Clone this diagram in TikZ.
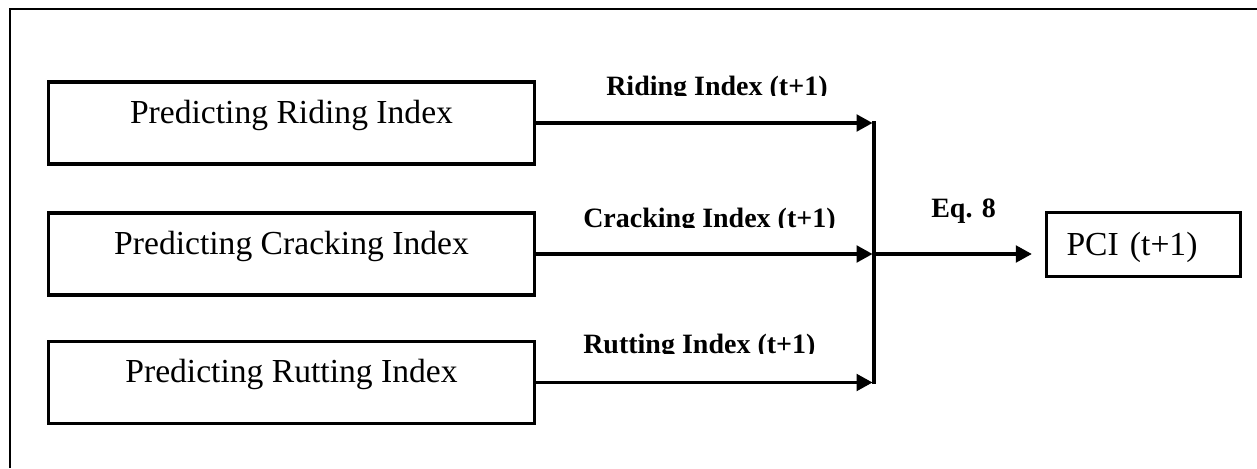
\documentclass[tikz,border=0pt]{standalone}
\usepackage{fontspec}
\setmainfont{Liberation Serif}
\usetikzlibrary{arrows.meta}
\begin{document}
\begin{tikzpicture}[x=0.75pt,y=-0.75pt,
  predbox/.style={draw,line width=2.5pt,minimum width=364.5pt,minimum height=61.5pt,
    inner sep=0pt,text height=14pt,text depth=14pt,font=\fontsize{25.2pt}{30pt}\selectfont},
  outbox/.style={draw,line width=2.5pt,minimum height=48pt,text width=115.5pt,align=left,
    inner xsep=15pt,inner ysep=0pt,text height=16.5pt,text depth=0pt,
    font=\fontsize{25.2pt}{30pt}\selectfont},
  lbl/.style={inner sep=0pt,font=\fontsize{21pt}{25pt}\selectfont\bfseries},
  arr/.style={line width=2.4pt,-{Triangle[length=12pt,width=12.5pt]}},
  bar/.style={line width=2.4pt,line cap=rect}]
\useasboundingbox (0,0) rectangle (1257,468);

% outer frame (top and left edges)
\draw[line width=1.5pt] (10,468) -- (10,9) -- (1257,9);

% prediction boxes
\node[predbox] (ride) at (291.5,123) {Predicting Riding Index};
\node[predbox] (crack) at (291.5,254) {Predicting Cracking Index};
\node[predbox] (rut) at (291.5,382.5) {Predicting Rutting Index};

% result box
\node[outbox] (pci) at (1143.5,244.5) {PCI (t+1)};

% collector bar
\coordinate (j1) at (874,123);
\coordinate (j2) at (874,254);
\coordinate (j3) at (874,382.5);
\draw[bar] (j1) -- (j3);

% index arrows into the bar
\draw[arr,shorten >=1.1pt] (ride.east) -- (j1);
\draw[arr,shorten >=1.1pt] (crack.east) -- (j2);
\draw[arr,shorten >=1.1pt] (rut.east) -- (j3);

% combined arrow to PCI
\draw[arr,shorten >=9.75pt] (j2) -- (j2 -| pci.west);

% arrow labels
\begin{scope}
  \clip (560,60) rectangle (900,95.5);
  \node[lbl,anchor=base west] (lride) at (606,95.5) {Riding Index (t+1)};
\end{scope}
\begin{scope}
  \clip (560,190) rectangle (900,227.5);
  \node[lbl,anchor=base west] (lcrack) at (583,227.5) {Cracking Index (t+1)};
\end{scope}
\begin{scope}
  \clip (560,320) rectangle (900,353.5);
  \node[lbl,anchor=base west] (lrut) at (583,353.5) {Rutting Index (t+1)};
\end{scope}
\node[lbl,anchor=base west] (eq) at (931,217) {Eq. 8};
\end{tikzpicture}
\end{document}
